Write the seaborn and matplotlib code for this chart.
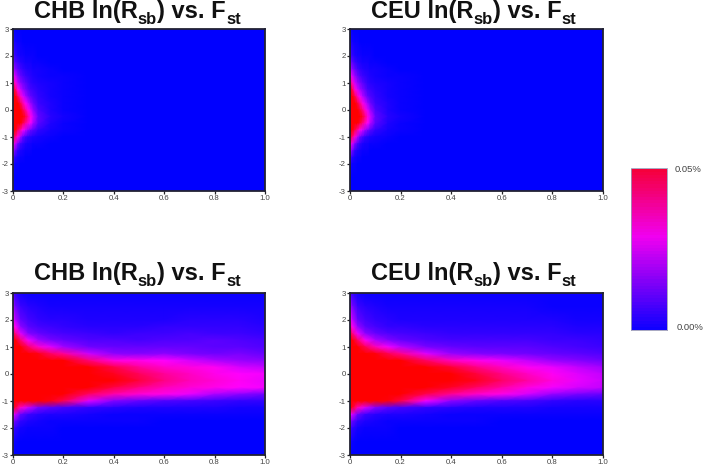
import matplotlib
matplotlib.use("Agg")
import matplotlib.pyplot as plt
from matplotlib.colors import LinearSegmentedColormap
import numpy as np
import pandas as pd
import seaborn as sns

sns.set_style("white")
plt.rcParams['font.family'] = ['Liberation Sans', 'DejaVu Sans']
plt.rcParams['axes.unicode_minus'] = False

# densities in thousandths of a percent
lnr = [3, 2.5, 2, 1.75, 1.5, 1.25, 1, .75, .5, .25, 0, -.25, -.5, -.75, -1, -1.25, -1.5, -1.75, -2, -2.5, -3]
fst_top = [0, .01, .02, .03, .04, .05, .06, .07, .08, .1, .15, .2, .3, 1]
fst_bottom = [0, .01, .03, .06, .1, .15, .2, .3, .4, .5, .6, .7, .8, .9, 1]

chb_top = [
 [1,0,0,0,0,0,0,0,0,0,0,0,0,0],
 [3,2,1,1,0,0,0,0,0,0,0,0,0,0],
 [7,5,3,2,2,1,1,1,1,0,0,0,0,0],
 [11,8,6,4,3,2,2,2,1,1,0,0,0,0],
 [17,13,9,7,5,4,3,3,2,2,1,0,0,0],
 [27,20,14,10,8,6,5,4,3,2,1,1,0,0],
 [38,28,18,14,11,9,7,5,4,3,2,1,0,0],
 [48,40,26,20,15,12,9,7,6,4,2,1,0,0],
 [58,52,40,30,22,17,13,10,8,5,2,1,0,0],
 [60,58,52,42,33,26,20,15,11,6,3,1,0,0],
 [60,60,56,50,42,35,27,21,15,8,3,1,0,0],
 [60,60,58,54,50,44,36,27,20,10,4,2,0,0],
 [60,60,56,50,42,35,30,24,17,9,3,1,0,0],
 [58,50,40,33,25,20,15,11,9,5,2,1,0,0],
 [44,36,27,17,10,7,5,4,3,2,1,0,0,0],
 [30,20,12,7,5,3,2,2,1,1,0,0,0,0],
 [17,10,5,3,2,1,1,1,0,0,0,0,0,0],
 [7,4,2,1,1,0,0,0,0,0,0,0,0,0],
 [3,1,1,0,0,0,0,0,0,0,0,0,0,0],
 [0,0,0,0,0,0,0,0,0,0,0,0,0,0],
 [0,0,0,0,0,0,0,0,0,0,0,0,0,0],
]
ceu_top = [
 [1,0,0,0,0,0,0,0,0,0,0,0,0,0],
 [3,2,1,1,0,0,0,0,0,0,0,0,0,0],
 [7,5,3,2,2,1,1,1,1,0,0,0,0,0],
 [12,9,6,4,3,2,2,2,1,1,0,0,0,0],
 [18,14,10,7,5,4,3,3,2,2,1,0,0,0],
 [28,21,15,11,8,6,5,4,3,2,1,1,0,0],
 [40,30,20,15,12,9,7,5,4,3,2,1,0,0],
 [50,42,28,21,16,13,10,7,6,4,2,1,0,0],
 [60,54,42,32,24,18,14,10,8,5,2,1,0,0],
 [60,60,54,44,35,27,21,16,11,6,3,1,0,0],
 [60,60,58,52,44,37,29,22,16,8,3,1,0,0],
 [60,60,60,56,50,46,38,29,21,10,4,2,0,0],
 [60,60,58,52,44,37,31,25,18,9,3,1,0,0],
 [60,52,42,34,26,21,16,12,9,5,2,1,0,0],
 [46,38,28,18,11,8,5,4,3,2,1,0,0,0],
 [32,21,13,8,5,3,2,2,1,1,0,0,0,0],
 [18,11,5,3,2,1,1,1,0,0,0,0,0,0],
 [8,4,2,1,1,0,0,0,0,0,0,0,0,0],
 [3,1,1,0,0,0,0,0,0,0,0,0,0,0],
 [0,0,0,0,0,0,0,0,0,0,0,0,0,0],
 [0,0,0,0,0,0,0,0,0,0,0,0,0,0],
]
chb_bottom = [
 [8,5,2,1,1,1,1,1,1,1,1,1,1,1,1],
 [16,11,6,4,3,2,2,2,2,2,2,2,2,2,2],
 [24,18,10,7,5,4,4,3,3,3,3,4,4,4,3],
 [32,25,14,9,7,6,5,4,4,4,5,5,5,5,4],
 [45,36,22,13,10,8,7,6,5,6,6,7,6,6,5],
 [55,50,38,24,16,12,10,8,8,7,8,8,9,8,7],
 [60,60,52,40,30,22,16,11,10,10,10,10,9,9,8],
 [60,60,60,55,48,40,35,20,14,13,14,12,11,12,10],
 [60,60,60,60,60,55,50,38,28,27,25,21,17,15,14],
 [60,60,60,60,60,60,60,50,43,35,30,28,26,21,19],
 [60,60,60,60,60,60,60,54,47,41,35,31,27,25,24],
 [60,60,60,60,60,60,60,56,50,44,37,32,29,26,23],
 [60,60,60,60,60,60,58,50,43,37,32,29,27,25,24],
 [60,60,60,60,60,58,54,40,33,29,27,23,17,14,11],
 [60,60,60,57,52,48,42,22,13,10,8,7,6,5,5],
 [50,44,30,20,12,9,7,5,4,3,3,3,3,2,2],
 [25,20,10,6,4,3,3,2,1,1,1,1,1,1,1],
 [14,10,5,3,2,1,1,1,1,1,0,0,0,0,0],
 [7,5,2,1,1,1,0,0,0,0,0,0,0,0,0],
 [2,1,0,0,0,0,0,0,0,0,0,0,0,0,0],
 [0,0,0,0,0,0,0,0,0,0,0,0,0,0,0],
]
ceu_bottom = [
 [7,5,2,1,1,1,1,1,1,1,1,1,1,1,1],
 [17,12,6,4,3,2,2,2,2,2,2,2,1,1,1],
 [26,19,10,7,5,4,3,3,3,3,3,3,3,2,2],
 [34,26,15,9,7,5,5,4,4,4,4,4,4,3,3],
 [46,37,23,14,10,8,7,6,5,5,5,5,5,4,4],
 [56,50,40,26,17,13,10,8,7,7,7,7,6,6,5],
 [60,60,54,42,32,24,18,12,10,9,9,9,8,7,6],
 [60,60,60,57,49,42,36,22,15,13,12,11,10,9,8],
 [60,60,60,60,60,57,52,40,31,27,23,19,15,13,11],
 [60,60,60,60,60,60,60,52,45,37,31,26,23,19,16],
 [60,60,60,60,60,60,60,56,50,44,37,31,26,22,19],
 [60,60,60,60,60,60,60,58,53,47,40,34,28,23,20],
 [60,60,60,60,60,60,58,52,46,40,34,28,24,21,19],
 [60,60,60,60,60,58,55,42,35,30,27,21,15,12,10],
 [60,60,60,58,53,49,43,24,14,10,8,7,5,4,4],
 [52,46,32,21,13,9,7,5,4,3,3,3,2,2,2],
 [26,21,11,6,4,3,3,2,1,1,1,1,1,1,1],
 [14,10,5,3,2,1,1,1,1,1,0,0,0,0,0],
 [7,5,2,1,1,1,0,0,0,0,0,0,0,0,0],
 [2,1,0,0,0,0,0,0,0,0,0,0,0,0,0],
 [0,0,0,0,0,0,0,0,0,0,0,0,0,0,0],
]
x_ticks = [0, .2, .4, .6, .8, 1.0]
x_labels = ["0", "0.2", "0.4", "0.6", "0.8", "1.0"]
y_ticks = [-3, -2, -1, 0, 1, 2, 3]
cbar_levels = list(range(50, -1, -1))
cbar_labels = ["0.05%", "0.00%"]

W, H = 703, 468
panel_cmap = LinearSegmentedColormap.from_list("p", ["#0000ff", "#ff00ff", "#ff0000"])
bar_cmap = LinearSegmentedColormap.from_list("b", [(0, "#1000ff"), (.58, "#f000f0"), (1, "#f5003c")])
fig = plt.figure(figsize=(W / 100, H / 100), dpi=100)

def box(x0, x1, y0, y1):
    return [x0 / W, 1 - y1 / H, (x1 - x0) / W, (y1 - y0) / H]

def title(name, left, baseline):
    r = fig.canvas.get_renderer()
    x = left
    parts = [(name + " ln(R", 17, 0), ("sb", 12, 6), (") vs. F", 17, 0), ("st", 12, 6)]
    for text, size, drop in parts:
        t = fig.text(x / W, 1 - (baseline + drop) / H, text, fontsize=size, fontweight="bold",
                     color="#111111", ha="left", va="baseline")
        x = t.get_window_extent(r).x1 + 0.2

panels = [
    ("CHB", chb_top, fst_top, box(13, 265, 29, 191), 34, 18),
    ("CEU", ceu_top, fst_top, box(350, 603, 29, 191), 371, 18),
    ("CHB", chb_bottom, fst_bottom, box(13, 265, 293, 455), 34, 280),
    ("CEU", ceu_bottom, fst_bottom, box(350, 603, 293, 455), 371, 280),
]
for name, grid, xs, rect, left, base in panels:
    ax = fig.add_axes(rect)
    ax.pcolormesh(xs, lnr, np.array(grid, float), cmap=panel_cmap, vmin=0, vmax=50,
                  shading="gouraud", rasterized=True)
    ax.set_xlim(0, 1)
    ax.set_ylim(-3, 3)
    ax.set_xticks(x_ticks, x_labels)
    ax.set_yticks(y_ticks)
    ax.tick_params(length=2.4, width=0.9, color="#222222", labelsize=5.6, labelcolor="#444444",
                   pad=0.8, left=True, bottom=True)
    for s in ax.spines.values():
        s.set_visible(True)
        s.set_color("#222233")
        s.set_linewidth(1.3)
    title(name, left, base)

cax = fig.add_axes(box(630.5, 667, 168.5, 330))
sns.heatmap(pd.DataFrame({"density": cbar_levels}), ax=cax, cmap=bar_cmap, vmin=0, vmax=50,
            cbar=False, xticklabels=False, yticklabels=False)
for s in cax.spines.values():
    s.set_visible(True)
    s.set_color("#9a9ab8")
    s.set_linewidth(0.6)
fig.text(675 / W, 1 - 170 / H, cbar_labels[0], fontsize=6.8, color="#444444", va="center")
fig.text(677 / W, 1 - 328 / H, cbar_labels[1], fontsize=6.8, color="#444444", va="center")

fig.savefig("out.png", dpi=100)
